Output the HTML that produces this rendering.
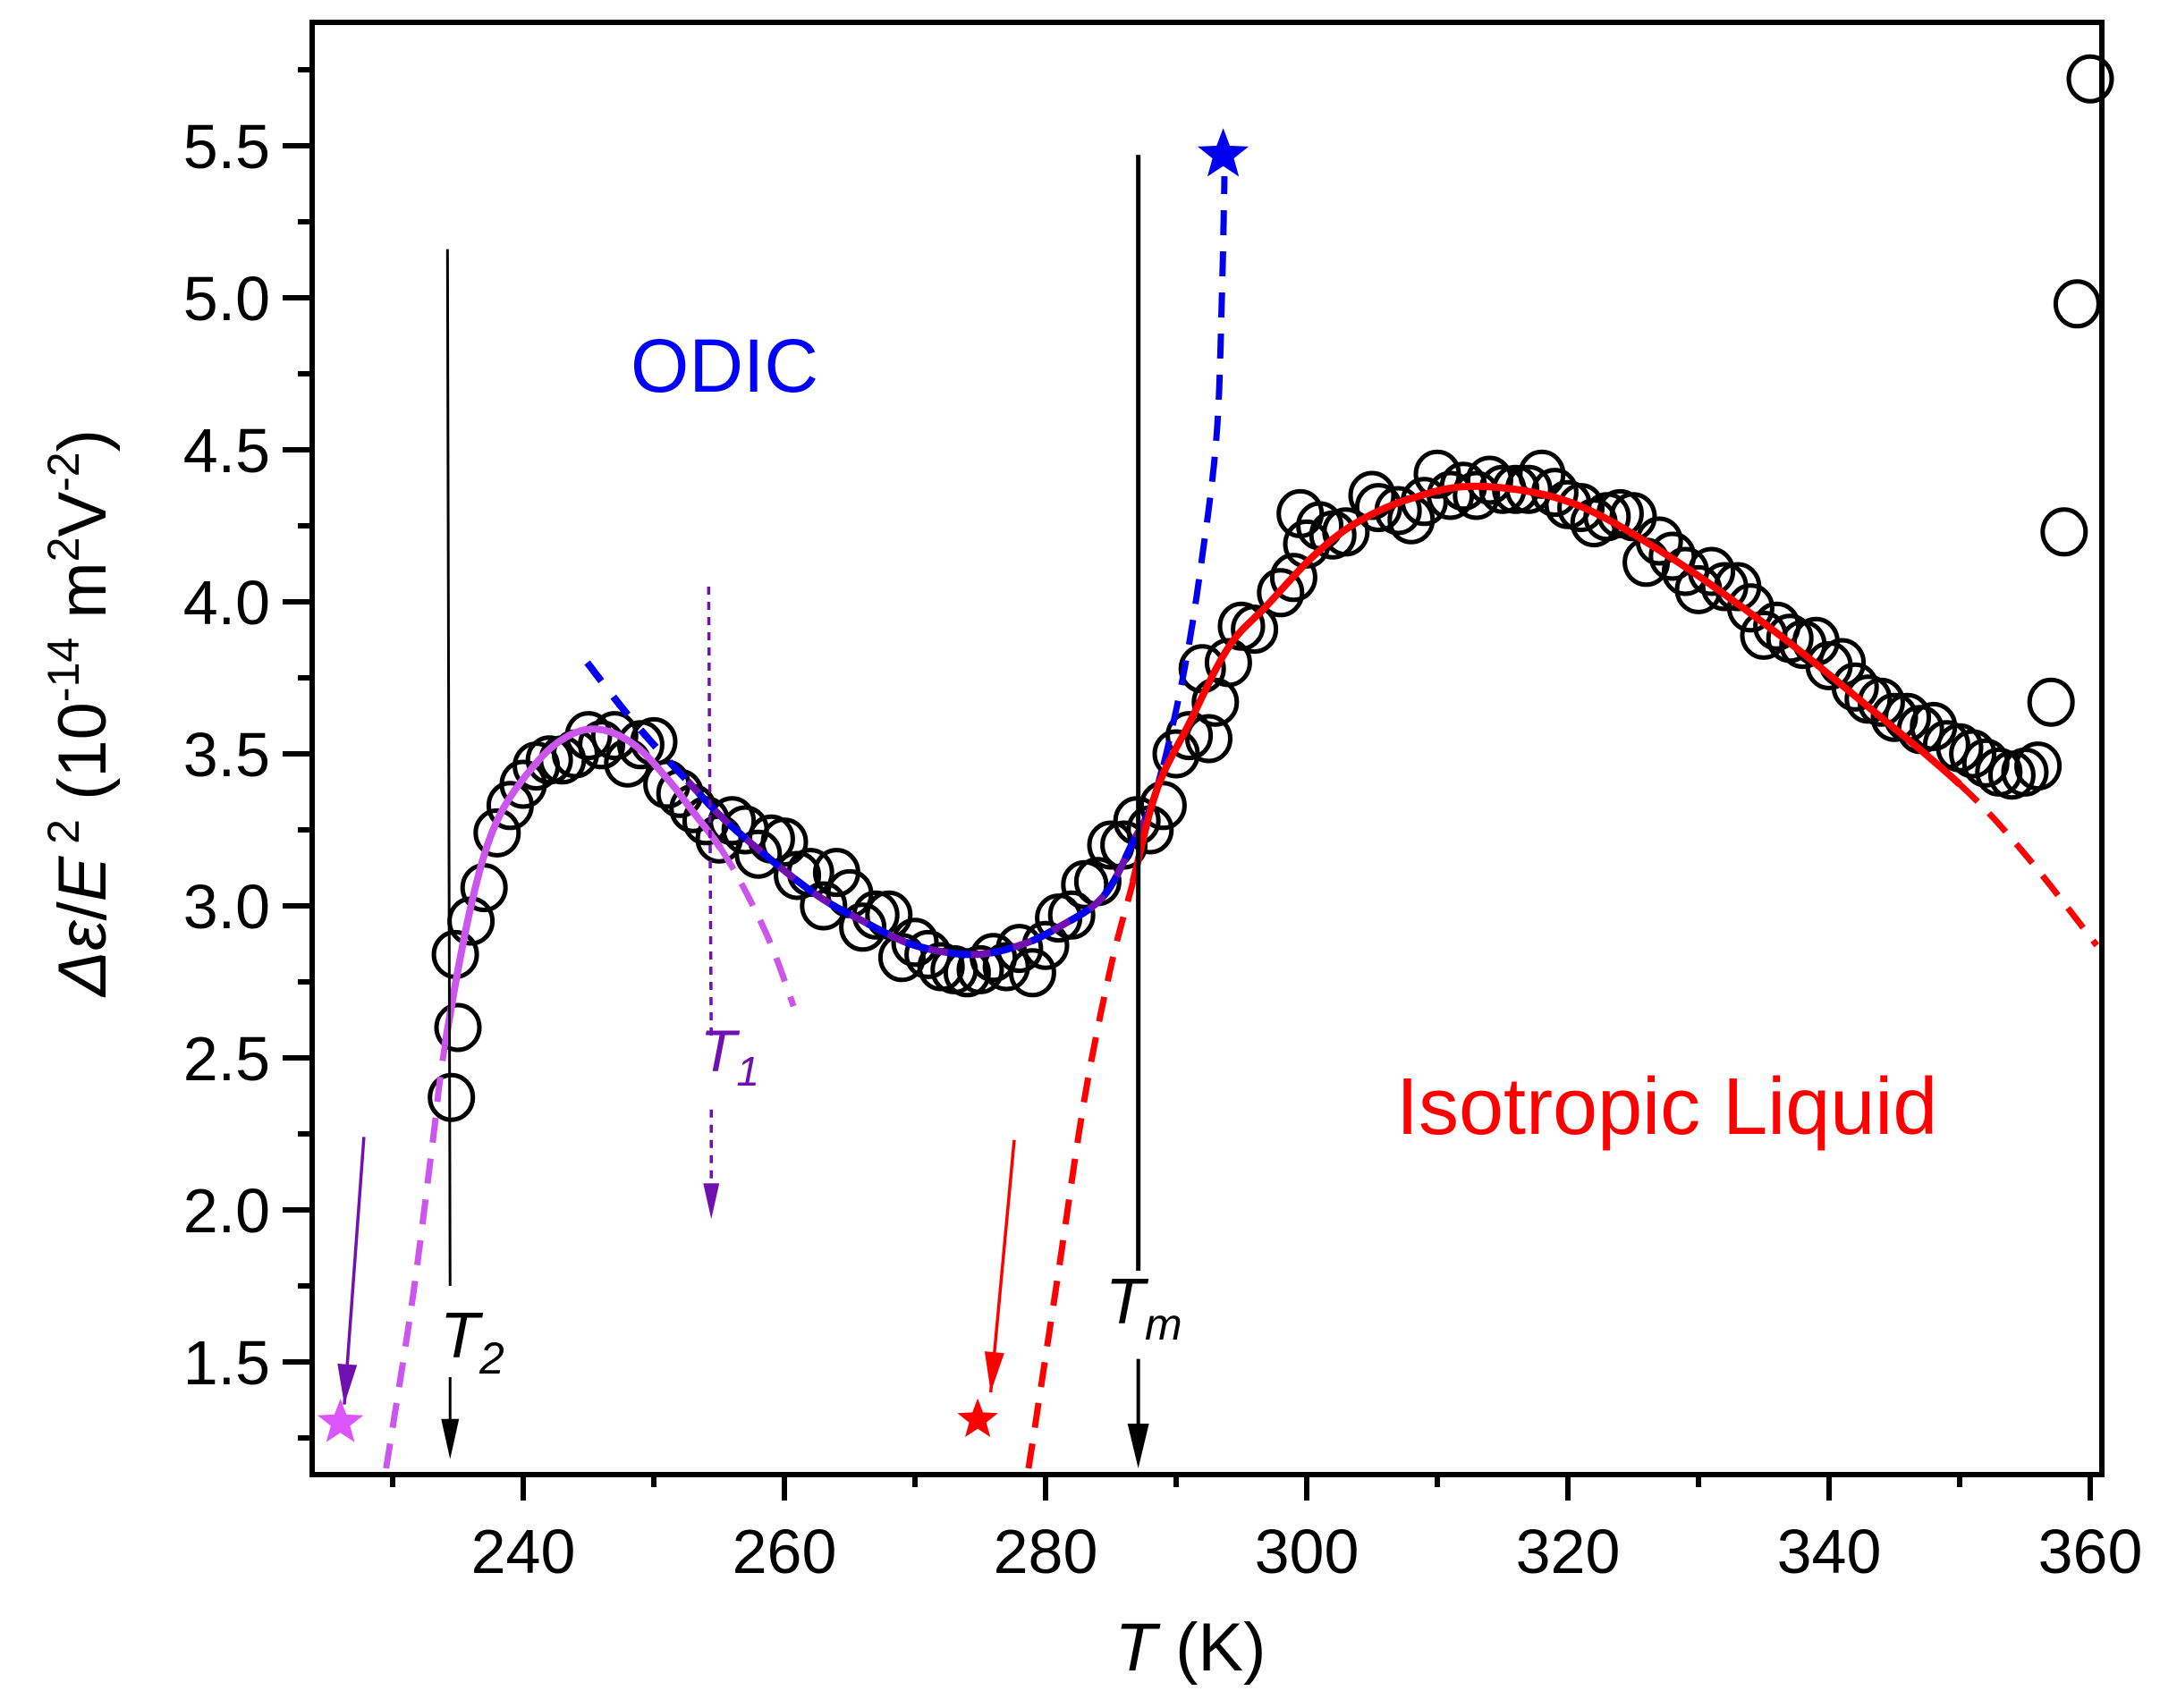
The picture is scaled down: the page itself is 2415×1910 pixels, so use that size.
<!DOCTYPE html>
<html><head><meta charset="utf-8">
<style>
html,body{margin:0;padding:0;background:#fff;}
svg{display:block;font-family:"Liberation Sans",Arial,sans-serif;}
</style></head>
<body>
<svg id="s" width="2415" height="1910" viewBox="0 0 2415 1910" xmlns="http://www.w3.org/2000/svg">
<rect width="2415" height="1910" fill="#fff"/>
<g id="ticks"></g>
<g id="pts" fill="none" stroke="#000" stroke-width="5"></g>
<g id="curves" stroke-linecap="butt"></g>
<g id="ann"></g>
<rect x="349" y="25" width="2001" height="1624" fill="none" stroke="#000" stroke-width="6"/>
<g font-size="70" fill="#000" text-anchor="end">
<text x="302" y="1548">1.5</text>
<text x="302" y="1378">2.0</text>
<text x="302" y="1208">2.5</text>
<text x="302" y="1038">3.0</text>
<text x="302" y="868">3.5</text>
<text x="302" y="698">4.0</text>
<text x="302" y="528">4.5</text>
<text x="302" y="358">5.0</text>
<text x="302" y="188">5.5</text>
</g>
<g font-size="70" fill="#000" text-anchor="middle">
<text x="585" y="1759">240</text>
<text x="877" y="1759">260</text>
<text x="1169" y="1759">280</text>
<text x="1461" y="1759">300</text>
<text x="1753" y="1759">320</text>
<text x="2045" y="1759">340</text>
<text x="2337" y="1759">360</text>
</g>
<text x="1331" y="1868" font-size="76" text-anchor="middle"><tspan font-style="italic">T</tspan> (K)</text>
<text transform="translate(118,797) rotate(-90)" font-size="76" text-anchor="middle"><tspan font-style="italic">Δε</tspan>/<tspan font-style="italic">E</tspan><tspan font-size="50" dy="-30"> 2</tspan><tspan dy="30">   (10</tspan><tspan font-size="50" dy="-30">-14</tspan><tspan dy="30"> m</tspan><tspan font-size="50" dy="-30">2</tspan><tspan dy="30">V</tspan><tspan font-size="50" dy="-30">-2</tspan><tspan dy="30">)</tspan></text>
<text x="810" y="438" font-size="84" fill="#0000ff" text-anchor="middle">ODIC</text>
<text x="1561" y="1268" font-size="90" fill="#ff0000">Isotropic Liquid</text>
<text x="492" y="1518" font-size="72" font-style="italic">T<tspan font-size="50" dy="18">2</tspan></text>
<text x="1236" y="1480" font-size="72" font-style="italic">T<tspan font-size="50" dy="18">m</tspan></text>
<text x="783" y="1198" font-size="66" font-style="italic" fill="#7010b0">T<tspan font-size="46" dy="16">1</tspan></text>
</svg>
<script>
const NS="http://www.w3.org/2000/svg";
const X=T=>585+(T-240)*14.6, Y=v=>1523-(v-1.5)*340;
function el(p,tag,a){const e=document.createElementNS(NS,tag);for(const k in a)e.setAttribute(k,a[k]);document.getElementById(p).appendChild(e);return e;}
for(let T=230;T<=360;T+=10){const maj=(T%20==0);el('ticks','line',{x1:X(T),x2:X(T),y1:1649,y2:1649+(maj?29:14),stroke:'#000','stroke-width':6});}
for(let v=1.25;v<=5.76;v+=0.25){const maj=Math.abs(v*2-Math.round(v*2))<0.01;el('ticks','line',{x1:349,x2:349-(maj?33:16),y1:Y(v),y2:Y(v),stroke:'#000','stroke-width':6});}
function spline(pts){let out=[];const P=pts.map(p=>[X(p[0]),Y(p[1])]);
 for(let i=0;i<P.length-1;i++){const p0=P[Math.max(0,i-1)],p1=P[i],p2=P[i+1],p3=P[Math.min(P.length-1,i+2)];
  for(let k=0;k<20;k++){const t=k/20,t2=t*t,t3=t2*t;
   const x=0.5*((2*p1[0])+(-p0[0]+p2[0])*t+(2*p0[0]-5*p1[0]+4*p2[0]-p3[0])*t2+(-p0[0]+3*p1[0]-3*p2[0]+p3[0])*t3);
   const y=0.5*((2*p1[1])+(-p0[1]+p2[1])*t+(2*p0[1]-5*p1[1]+4*p2[1]-p3[1])*t2+(-p0[1]+3*p1[1]-3*p2[1]+p3[1])*t3);
   out.push([x,y,pts[i][0]+(pts[i+1][0]-pts[i][0])*t]);}}
 const L=pts[pts.length-1];out.push([X(L[0]),Y(L[1]),L[0]]);return out;}
const f=q=>q.map(p=>p[0].toFixed(1)+','+p[1].toFixed(1)).join(' ');
function seg(out,a,b){return out.filter(p=>p[2]>=a-1e-9&&p[2]<=b+1e-9);}
function pl(q,col,w,dash){const a={points:f(q),fill:'none',stroke:col,'stroke-width':w};if(dash)a['stroke-dasharray']=dash;el('curves','polyline',a);}
// purple
const pu=spline([[229.5,1.15],[231.5,1.7],[233,2.2],[234,2.54],[236,3.0],[238,3.28],[241,3.47],[243.5,3.56],[245.9,3.58],[248.5,3.53],[251,3.42],[253,3.31],[255.1,3.19],[257,3.05],[259,2.87],[260.7,2.67]]);
pl(seg(pu,229.5,234),'#cc55ee',7,'28 18');
pl(seg(pu,234,255.1),'#cc55ee',8);
pl(seg(pu,255.1,261),'#cc55ee',7,'28 18');
// blue / dark purple
const bl=spline([[244.9,3.80],[247.6,3.65],[250,3.53],[252.6,3.41],[256,3.26],[262,3.05],[266,2.95],[270,2.87],[274.4,2.84],[278,2.87],[281,2.93],[284.4,3.03],[286.7,3.21],[288.5,3.38],[290.6,3.77],[292,4.15],[293.1,4.55],[293.5,5.0],[293.7,5.4]]);
pl(seg(bl,252.6,289),'#7010b0',8);
pl(seg(bl,244.9,289),'#0000ee',8,'26 22');
pl(seg(bl,289,293.7),'#0000ee',7,'28 18');
// red
const rd=spline([[278.7,1.15],[281,1.8],[283,2.37],[285,2.8],[286.7,3.08],[288.5,3.38],[291,3.6],[294,3.85],[297,3.99],[300.5,4.15],[303.8,4.26],[308,4.34],[313,4.38],[320,4.33],[327,4.17],[335,3.93],[342,3.69],[350,3.40],[355,3.17],[360.5,2.87]]);
pl(seg(rd,278.7,286.7),'#ff0000',7,'28 18');
pl(seg(rd,286.7,350),'#ff0000',8);
pl(seg(rd,350,360.5),'#ff0000',7,'28 18');
const D=[[234.5,2.37],[235,2.60],[234.8,2.84],[236,2.95],[237,3.06],[238,3.24],[239,3.33],[240,3.40],[241,3.46],[242,3.48],[243,3.48],[244,3.50],[245,3.56],[246,3.53],[247,3.56],[248,3.47],[249,3.53],[250,3.54],[251,3.40],[252,3.37],[253,3.32],[254,3.28],[255,3.22],[256,3.28],[257,3.25],[258,3.17],[259,3.22],[260,3.21],[261,3.10],[262,3.11],[263,3.00],[264,3.11],[265,3.04],[266,2.93],[267,2.97],[268,2.97],[269,2.83],[270,2.88],[271,2.84],[272,2.80],[273,2.79],[274,2.78],[275,2.79],[276,2.83],[277,2.80],[278,2.86],[279,2.78],[280,2.87],[281,2.96],[282,2.97],[283,3.07],[284,3.08],[285,3.20],[286,3.20],[287,3.28],[288,3.25],[289,3.33],[290,3.50],[291,3.56],[292,3.78],[292.5,3.55],[293,3.67],[294,3.80],[295,3.92],[296,3.91],[298,4.03],[299,4.08],[299.5,4.29],[300,4.19],[301,4.25],[302,4.22],[303,4.23],[305,4.35],[305.5,4.31],[307,4.30],[308,4.27],[309,4.33],[310,4.42],[311,4.35],[312,4.38],[313,4.35],[314,4.40],[315,4.37],[316,4.37],[317,4.37],[318,4.42],[319,4.36],[320,4.32],[321,4.31],[322,4.26],[323,4.28],[324,4.29],[325,4.28],[326,4.13],[327,4.20],[328,4.15],[329,4.10],[330,4.04],[331,4.10],[332,4.05],[333,4.05],[334,3.98],[335,3.89],[336,3.92],[337,3.88],[338,3.86],[339,3.87],[340,3.79],[341,3.80],[342,3.72],[343,3.68],[344,3.67],[345,3.62],[346,3.62],[347,3.58],[348,3.59],[349,3.53],[350,3.52],[351,3.50],[352,3.47],[353,3.44],[354,3.43],[355,3.44],[356,3.46],[357,3.67],[358,4.23],[359,4.98],[360,5.72]];
D.forEach(p=>el('pts','ellipse',{cx:X(p[0]),cy:Y(p[1]),rx:24,ry:25}));
function line(x1,y1,x2,y2,c,w,dash){const a={x1,y1,x2,y2,stroke:c,'stroke-width':w};if(dash)a['stroke-dasharray']=dash;el('ann','line',a);}
function head(x,y,ang,c,L,W){const ca=Math.cos(ang),sa=Math.sin(ang);const bx=x-ca*L,by=y-sa*L;
 el('ann','polygon',{points:`${x},${y} ${bx-sa*W},${by+ca*W} ${bx+sa*W},${by-ca*W}`,fill:c});}
line(X(234.2),Y(5.16),X(234.4),Y(1.75),'#000',3);
line(X(234.4),Y(1.45),X(234.4),Y(1.25),'#000',3);
head(X(234.4),Y(1.18),Math.PI/2,'#000',45,10);
line(X(287.1),Y(5.47),X(287.1),Y(1.8),'#000',5);
line(X(287.1),Y(1.51),X(287.1),Y(1.25),'#000',4);
head(X(287.1),Y(1.15),Math.PI/2,'#000',50,12);
line(X(254.2),Y(4.05),X(254.4),Y(2.55),'#7010b0',3.5,'9 8');
line(X(254.4),Y(2.33),X(254.4),Y(2.05),'#7010b0',3.5,'9 8');
head(X(254.4),Y(1.97),Math.PI/2,'#7010b0',40,9);
function arrow(x1,y1,x2,y2,c){line(x1,y1,x2,y2,c,3.5);head(x2,y2,Math.atan2(y2-y1,x2-x1),c,45,11);}
arrow(X(227.8),Y(2.24),X(226.3),Y(1.36),'#7010b0');
arrow(X(277.6),Y(2.23),X(275.8),Y(1.40),'#ff0000');
function star(cx,cy,R,c){let p=[];for(let i=0;i<10;i++){const r=i%2?R*0.42:R;const a=-Math.PI/2+i*Math.PI/5;p.push((cx+r*Math.cos(a)).toFixed(1)+','+(cy+r*Math.sin(a)).toFixed(1));}el('ann','polygon',{points:p.join(' '),fill:c});}
star(X(226.0),Y(1.30),27,'#dd55ff');
star(X(274.8),Y(1.31),24,'#ff0000');
star(X(293.6),Y(5.47),30,'#0000ee');
</script>
</body></html>
